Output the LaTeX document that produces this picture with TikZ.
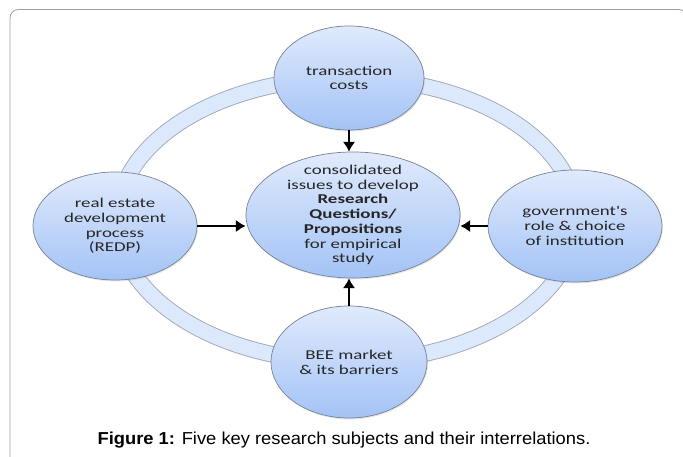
\documentclass[tikz,border=0pt]{standalone}
\usepackage{fontspec}
\usetikzlibrary{arrows.meta,shadows,shapes.geometric}
\newfontfamily\ellfont[FakeStretch=1.4]{Carlito}
\newfontfamily\capfont[FakeStretch=1.06]{Liberation Sans}
\definecolor{bubtop}{RGB}{224,234,252}
\definecolor{bubbot}{RGB}{163,195,246}
\definecolor{bubedge}{RGB}{120,130,150}
\definecolor{ringfill}{RGB}{220,232,251}
\definecolor{framegray}{RGB}{160,160,160}

\begin{document}
\begin{tikzpicture}[x=0.025cm, y=-0.025cm,
  bubble/.style={ellipse, draw=bubedge, line width=0.5pt,
    top color=bubtop, bottom color=bubbot, align=center,
    inner xsep=-8pt, inner ysep=-8pt,
    font=\ellfont\fontsize{9.6}{10.5}\selectfont, text=black!85,
    drop shadow={opacity=0.2, shadow xshift=0.6pt, shadow yshift=-1pt}},
  link/.style={line width=1.3pt, -{Latex[length=7pt, width=9pt]}}]
  \useasboundingbox (0,0) rectangle (683,457);
  \clip (0,0) rectangle (683,457);
  % frame
  \draw[framegray, line width=0.6pt, rounded corners=6] (10,9.5) rectangle (687,480);
  % ring behind the bubbles
  \draw[bubedge!70, line width=11.8pt] (347,220) ellipse [x radius=230, y radius=142];
  \draw[ringfill, line width=10.5pt] (347,220) ellipse [x radius=230, y radius=142];

  \node[bubble, minimum width=3.75cm, minimum height=2.6cm] (tc) at (349,78)
    {transaction\\costs};
  \node[bubble, minimum width=5.35cm, minimum height=3.15cm] (cen) at (353,215)
    {consolidated\\issues to develop\\\textbf{Research}\\\textbf{Questions/}\\\textbf{Propositions}\\for empirical\\study};
  \node[bubble, minimum width=4.1cm, minimum height=2.7cm] (redp) at (115,226)
    {real estate\\development\\process\\(REDP)};
  \node[bubble, minimum width=4.35cm, minimum height=2.8cm] (gov) at (575,226)
    {government's\\role \& choice\\of institution};
  \node[bubble, minimum width=3.9cm, minimum height=2.8cm] (bee) at (349,362)
    {BEE market\\\& its barriers};

  \draw[link] (tc.south) -- (tc.south |- cen.north);
  \draw[link] (redp.east) -- (redp.east -| cen.west);
  \draw[link] (gov.west) -- (gov.west -| cen.east);
  \draw[link] (bee.north) -- (bee.north |- cen.south);

  \node[font=\capfont\fontsize{12.3}{14}\selectfont] (cap) at (344,440)
    {\textbf{Figure 1:} Five key research subjects and their interrelations.};
\end{tikzpicture}
\end{document}
